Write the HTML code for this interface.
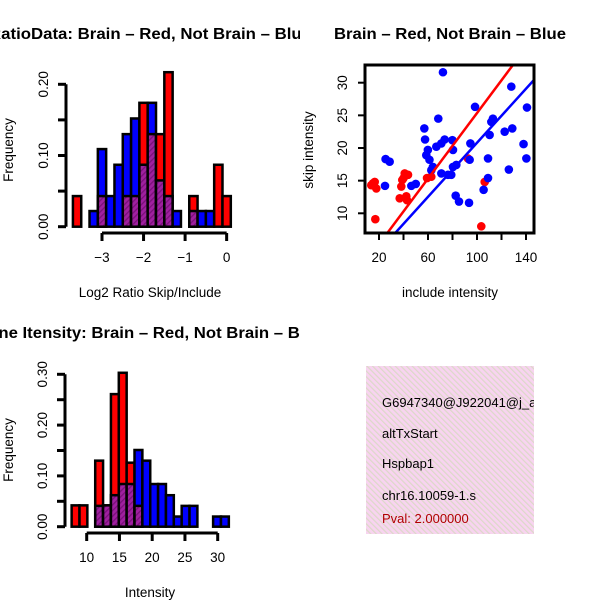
<!DOCTYPE html>
<html><head><meta charset="utf-8"><style>
html,body{margin:0;padding:0;background:#fff;}
svg{display:block;font-family:"Liberation Sans",sans-serif;}
</style></head><body>
<svg id="fig" width="600" height="600" viewBox="0 0 600 600" xmlns="http://www.w3.org/2000/svg">
<defs>
<clipPath id="clipL"><rect x="0" y="0" width="300" height="600"/></clipPath>
<clipPath id="clipBox"><rect x="366" y="66" width="167" height="166"/></clipPath>
<clipPath id="clipInfo"><rect x="366" y="366" width="168" height="168"/></clipPath>
<pattern id="hatchP" width="4" height="4" patternUnits="userSpaceOnUse" patternTransform="rotate(45)"><rect width="4" height="4" fill="#a020a0"/><rect width="1.3" height="4" fill="#7a107a"/></pattern>
<pattern id="pinkP" width="4" height="4" patternUnits="userSpaceOnUse" patternTransform="rotate(-45)"><rect width="4" height="4" fill="#f8d4f0"/><rect width="1.2" height="4" fill="#dcd8c8"/></pattern>
</defs>
<g id="g1"></g>
<g id="g2"></g>
<g id="g3"></g>
<g id="g4">
<rect x="366" y="366" width="168" height="168" fill="url(#pinkP)"/>
<g clip-path="url(#clipInfo)" font-size="13">
<text x="382" y="407">G6947340@J922041@j_at</text>
<text x="382" y="438">altTxStart</text>
<text x="382" y="468">Hspbap1</text>
<text x="382" y="500">chr16.10059-1.s</text>
<text x="382" y="523" fill="#b00000">Pval: 2.000000</text>
</g></g>
</svg>
<script>
// ---------- data: ratio histogram ----------
const ratioBinStart = -3.7;
const ratioBinWidth = 0.2;
const ratioRed  = [0.043,0,0,0.043,0,0,0.043,0.043,0.174,0.13,0.13,0.217,0,0,0.043,0,0,0.087,0.043];
const ratioBlue = [0,0,0.022,0.109,0.043,0.087,0.13,0.152,0.087,0.174,0.065,0.043,0.022,0,0.022,0.022,0.022,0,0];
const ratioXTicks = [-3,-2,-1,0];
const ratioYTicks = [0,0.05,0.1,0.15,0.2];
const ratioYLabels = ["0.00","","0.10","","0.20"];
// ---------- data: scatter ----------
const redX = [15.1,17.8,16.5,13.7,17,41,40.1,38.2,36.9,42.3,43.7,39,59.2,62.7,92.6,106.3,103.5,42.9];
const redY = [14.6,13.8,14.8,14.3,9.1,16.1,15.4,14.1,12.3,12.6,15.9,15.1,15.4,15.6,18.4,14.8,8,12];
const blueX = [72.2,68.4,57,57.6,25.4,28.7,24.9,46.4,50,58.6,59.9,61.2,62.7,66.8,70.9,73.6,79.9,80.4,76.3,70.9,79,83.1,80.4,82.6,85.3,93.5,94,94.6,98.4,109,110.3,109,105.4,111.7,113,122.6,128.8,128,126,138,140.3,140.8,64];
const blueY = [31.6,24.5,23,21.3,18.3,17.9,14.2,14.2,14.5,18.9,19.7,18.2,16.6,20.2,20.7,21.3,21.2,19.7,15.9,16.1,15.9,17.4,17.1,12.7,11.8,11.6,18.2,20.7,26.3,18.4,22,15.4,13.6,24,24.5,22.5,23,29.4,16.7,20.6,18.4,26.2,17.1];
const redFit = [0.25,0.251];   // intercept, slope
const blueFit = [0.1,0.207];
const scXTicks = [20,40,60,80,100,120,140];
const scXLabels = ["20","","60","","100","","140"];
const scYTicks = [10,15,20,25,30];
// ---------- data: intensity histogram ----------
const intBinStart = 7.7;
const intBinWidth = 1.2;
const intRed  = [0.042,0.042,0,0.13,0.042,0.261,0.303,0.126,0.041,0,0,0,0,0,0,0,0,0,0,0];
const intBlue = [0,0,0,0.041,0.042,0.062,0.084,0.084,0.151,0.13,0.084,0.084,0.062,0.02,0.041,0.041,0,0,0.02,0.02];
const intXTicks = [10,15,20,25,30];
const intYTicks = [0,0.05,0.1,0.15,0.2,0.25,0.3];
const intYLabels = ["0.00","","0.10","","0.20","","0.30"];

const FS = 13.5;
const NS="http://www.w3.org/2000/svg";
function mk(parent,tag,attrs,text){const e=document.createElementNS(NS,tag);for(const k in attrs)e.setAttribute(k,attrs[k]);if(text!==undefined)e.textContent=text;parent.appendChild(e);return e;}

function histogram(g,o){
  const sx=v=>o.x0+(v-o.xa)*o.kx, sy=v=>o.y0-v*o.ky;
  const n=o.red.length;
  for(let i=0;i<n;i++){
    const l=o.start+i*o.w, a=sx(l), b=sx(l+o.w);
    const r=o.red[i], bl=o.blue[i], hi=Math.max(r,bl), lo=Math.min(r,bl);
    if(hi>0){
      const top=mk(g,'rect',{x:a,y:sy(hi),width:b-a,height:sy(0)-sy(hi),fill:r>=bl?'#ff0000':'#0000ff',stroke:'#000','stroke-width':2.5});
      
      
    }
    if(lo>0){
      const ov=mk(g,'rect',{x:a,y:sy(lo),width:b-a,height:sy(0)-sy(lo),fill:'url(#hatchP)',stroke:'#000','stroke-width':2.5});
      
      
    }
  }
  const ay=mk(g,'g',{});
  
  
  const yt=o.yt;
  mk(ay,'line',{x1:o.ax,x2:o.ax,y1:sy(yt[0]),y2:sy(yt[yt.length-1]),stroke:'#000','stroke-width':3});
  yt.forEach((v,i)=>{
    mk(ay,'line',{x1:o.ax-8,x2:o.ax,y1:sy(v),y2:sy(v),stroke:'#000','stroke-width':3});
    if(o.yl[i]){const t=mk(ay,'text',{x:0,y:0,'font-size':FS,'text-anchor':'middle',transform:`translate(${o.ax-18},${sy(v)}) rotate(-90)`},o.yl[i]);
      
      }
  });
  const ax=mk(g,'g',{});
  
  
  const xt=o.xt;
  mk(ax,'line',{x1:sx(xt[0]),x2:sx(xt[xt.length-1]),y1:o.ayy,y2:o.ayy,stroke:'#000','stroke-width':3});
  xt.forEach(v=>{
    mk(ax,'line',{x1:sx(v),x2:sx(v),y1:o.ayy,y2:o.ayy+8,stroke:'#000','stroke-width':3});
    const t=mk(ax,'text',{x:sx(v),y:o.ayy+29,'font-size':FS,'text-anchor':'middle'},String(v).replace('-','\u2212'));
    
    
  });
  const xl=mk(g,'text',{x:150,y:o.ayy+64,'font-size':FS,'text-anchor':'middle'},o.xlab);
  
  
  const yl=mk(g,'text',{x:0,y:0,'font-size':FS,'text-anchor':'middle',transform:`translate(13,${o.ylabY}) rotate(-90)`},'Frequency');
  
  
  const tt=mk(g,'text',{x:150-o.titleW/2,y:o.titleY,'font-size':16,'font-weight':'bold',textLength:o.titleW,lengthAdjust:'spacingAndGlyphs','clip-path':'url(#clipL)'},o.title);
  
  
}

histogram(document.getElementById('g1'),{
  red:ratioRed,blue:ratioBlue,start:ratioBinStart,w:ratioBinWidth,
  xa:-3,x0:102,kx:41.55,y0:226.7,ky:712,ax:66,ayy:233,
  xt:ratioXTicks,yt:ratioYTicks,yl:ratioYLabels,xlab:'Log2 Ratio Skip/Include',ylabY:150,
  title:'RatioData: Brain \u2013 Red, Not Brain \u2013 Blue',titleY:39,titleW:322});
histogram(document.getElementById('g3'),{
  red:intRed,blue:intBlue,start:intBinStart,w:intBinWidth,
  xa:10,x0:86.7,kx:6.55,y0:526.7,ky:508,ax:65,ayy:533,
  xt:intXTicks,yt:intYTicks,yl:intYLabels,xlab:'Intensity',ylabY:450,
  title:'Gene Itensity: Brain \u2013 Red, Not Brain \u2013 Blue',titleY:338,titleW:348});

// scatter
(function(){
  const g=document.getElementById('g2');
  const sx=v=>379+(v-20)*1.225, sy=v=>213.3-(v-10)*6.53;
  const pts=mk(g,'g',{'clip-path':'url(#clipBox)'});
  redX.forEach((x,i)=>{const c=mk(pts,'circle',{cx:sx(x),cy:sy(redY[i]),r:4.3,fill:'#ff0000'});
    
    });
  blueX.forEach((x,i)=>{const c=mk(pts,'circle',{cx:sx(x),cy:sy(blueY[i]),r:4.3,fill:'#0000ff'});
    
    });
  [[redFit,'#ff0000','fit-line-red'],[blueFit,'#0000ff','fit-line-blue']].forEach(([f,c,n])=>{
    const l=mk(pts,'line',{x1:sx(0),y1:sy(f[0]),x2:sx(160),y2:sy(f[0]+f[1]*160),stroke:c,'stroke-width':2.5});
    
    
  });
  const box=mk(g,'rect',{x:365,y:65,width:169,height:168,fill:'none',stroke:'#000','stroke-width':3});
  
  
  scXTicks.forEach((v,i)=>{
    mk(g,'line',{x1:sx(v),x2:sx(v),y1:233,y2:240,stroke:'#000','stroke-width':2});
    if(scXLabels[i]){const t=mk(g,'text',{x:sx(v),y:262,'font-size':FS,'text-anchor':'middle'},scXLabels[i]);
      
      }
  });
  scYTicks.forEach(v=>{
    mk(g,'line',{x1:358,x2:365,y1:sy(v),y2:sy(v),stroke:'#000','stroke-width':2});
    const t=mk(g,'text',{x:0,y:0,'font-size':FS,'text-anchor':'middle',transform:`translate(347,${sy(v)}) rotate(-90)`},String(v));
    
    
  });
  const xl=mk(g,'text',{x:450,y:297,'font-size':FS,'text-anchor':'middle'},'include intensity');
  
  
  const yl=mk(g,'text',{x:0,y:0,'font-size':FS,'text-anchor':'middle',transform:'translate(313,150) rotate(-90)'},'skip intensity');
  
  
  const tt=mk(g,'text',{x:334,y:39,'font-size':16,'font-weight':'bold',textLength:232,lengthAdjust:'spacingAndGlyphs'},'Brain \u2013 Red, Not Brain \u2013 Blue');
  
  
})();
</script>
</body></html>
